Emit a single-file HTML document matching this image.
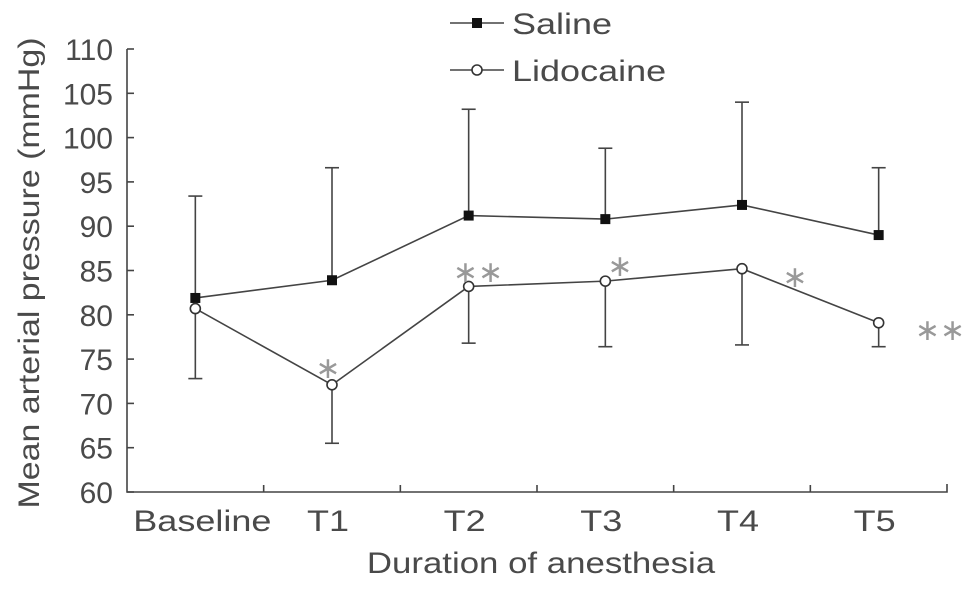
<!DOCTYPE html>
<html><head><meta charset="utf-8"><style>
body{margin:0;background:#fff}
svg text{font-family:"Liberation Sans",sans-serif;fill:#4a4a4a}
</style></head><body>
<svg width="969" height="586" id="c">
</svg>
<script>
const categories=["Baseline","T1","T2","T3","T4","T5"];
const salineMean=[81.9,83.9,91.2,90.8,92.4,89.0];
const salineUpper=[93.4,96.6,103.2,98.8,104.0,96.6];
const lidoMean=[80.7,72.1,83.2,83.8,85.2,79.1];
const lidoLower=[72.8,65.5,76.8,76.4,76.6,76.4];
const yTicks=[60,65,70,75,80,85,90,95,100,105,110];
const sigLabels=["","*","**","*","*","**"];
const NS="http://www.w3.org/2000/svg";
const svg=document.getElementById('c');
const L=127,R=947,B=492,T=49;
const step=(R-L)/categories.length;
const x=i=>L+step*(i+0.5);
const y=v=>B-(v-60)/(110-60)*(B-T);
function el(t,a,p){const e=document.createElementNS(NS,t);for(const k in a)e.setAttribute(k,a[k]);(p||svg).appendChild(e);return e;}
function stretch(t,f){const w=t.getComputedTextLength();t.setAttribute('textLength',w*f);t.setAttribute('lengthAdjust','spacingAndGlyphs');}
const g=el('g',{stroke:'#444','stroke-width':1.6,fill:'none'});


el('path',{d:`M${L},${T} L${L},${B} L${R},${B} L${R},${B-8}`},g);
for(let i=1;i<categories.length;i++)el('line',{x1:L+step*i,x2:L+step*i,y1:B,y2:B-7},g);
yTicks.forEach(v=>{
 el('line',{x1:L,x2:L+7,y1:y(v),y2:y(v)},g);
 const t=el('text',{x:L-14,y:y(v)+11,'text-anchor':'end','font-size':30});
 t.textContent=v;
 
 
});
categories.forEach((c,i)=>{
 const t=el('text',{x:x(i)+(i===0?7:-4),y:531,'text-anchor':'middle','font-size':30});
 t.textContent=c;
 
 
 stretch(t,1.2);
});
const xt=el('text',{x:541,y:573,'text-anchor':'middle','font-size':30});
xt.textContent='Duration of anesthesia';


stretch(xt,1.16);
const yt=el('text',{transform:'translate(39,273) rotate(-90)','text-anchor':'middle','font-size':30});
yt.textContent='Mean arterial pressure (mmHg)';


stretch(yt,1.13);
const eb=el('g',{stroke:'#444','stroke-width':1.6});


categories.forEach((c,i)=>{
 el('line',{x1:x(i),x2:x(i),y1:y(salineMean[i]),y2:y(salineUpper[i])},eb);
 el('line',{x1:x(i)-7,x2:x(i)+7,y1:y(salineUpper[i]),y2:y(salineUpper[i])},eb);
 el('line',{x1:x(i),x2:x(i),y1:y(lidoMean[i]),y2:y(lidoLower[i])},eb);
 el('line',{x1:x(i)-7,x2:x(i)+7,y1:y(lidoLower[i]),y2:y(lidoLower[i])},eb);
});
const sl=el('polyline',{points:salineMean.map((v,i)=>x(i)+','+y(v)).join(' '),stroke:'#444','stroke-width':1.6,fill:'none'});


const ll=el('polyline',{points:lidoMean.map((v,i)=>x(i)+','+y(v)).join(' '),stroke:'#444','stroke-width':1.6,fill:'none'});


salineMean.forEach((v,i)=>{
 const r=el('rect',{x:x(i)-5,y:y(v)-5,width:10,height:10,fill:'#111'});
 
 
});
lidoMean.forEach((v,i)=>{
 const c=el('circle',{cx:x(i),cy:y(v),r:5,fill:'#fff',stroke:'#333','stroke-width':1.6});
 
 
});
const sigPos=[[0,0],[328,378],[478,282],[620,276],[795,287],[940,340]];
sigLabels.forEach((s,i)=>{
 if(!s)return;
 const t=el('text',{x:sigPos[i][0],y:sigPos[i][1],'text-anchor':'middle','font-size':30,style:'fill:#999'});
 t.textContent=s.replace(/\*/g,'∗');
 
 
});
const lg=el('g',{});


el('line',{x1:450,x2:504,y1:23,y2:23,stroke:'#444','stroke-width':1.6},lg);
el('rect',{x:472,y:18,width:10,height:10,fill:'#111'},lg);
let t1=el('text',{x:512,y:34,'font-size':30},lg);t1.textContent='Saline';
stretch(t1,1.2);
el('line',{x1:450,x2:504,y1:70,y2:70,stroke:'#444','stroke-width':1.6},lg);
el('circle',{cx:477,cy:70,r:5,fill:'#fff',stroke:'#333','stroke-width':1.6},lg);
let t2=el('text',{x:512,y:81,'font-size':30},lg);t2.textContent='Lidocaine';
stretch(t2,1.2);
</script>
</body></html>
